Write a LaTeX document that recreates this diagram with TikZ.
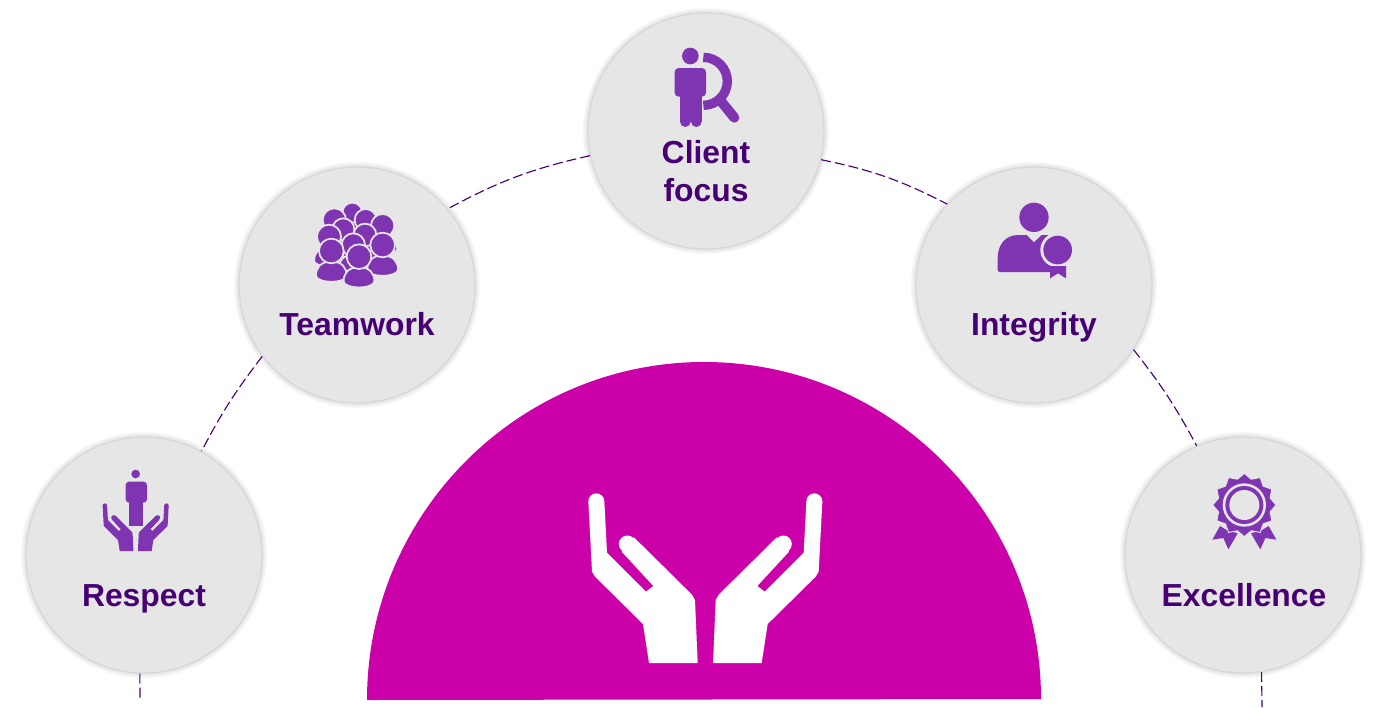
\documentclass[tikz,border=0pt]{standalone}
\usepackage{fontspec}
\setmainfont{Liberation Sans}
\definecolor{disc}{HTML}{E6E6E6}
\definecolor{rim}{HTML}{D8D8D8}
\definecolor{ink}{HTML}{460073}
\definecolor{icon}{HTML}{7F35B2}
\definecolor{dome}{HTML}{CB00A9}
\newcommand{\handshape}{(55,65) -- (66,275) -- (75,290) -- (219,432) -- (237,549) -- (383,549) -- (375,360) -- (365,343) -- (192,172) -- (155,215) -- (250,318) -- (228,335) -- (111,218) -- (103,65) -- cycle}
\newcommand{\handicon}[1]{\fill[#1] \handshape; \fill[#1] (79,64) circle[radius=24]; \fill[#1] (172,192) circle[radius=25.5];}
\newcommand{\person}[3]{%
  \path[fill=icon,draw=disc,line width=1.3pt] (#1,#2+0.85*#3) .. controls (#1-0.9*#3,#2+0.85*#3) and (#1-1.25*#3,#2+1.4*#3) .. (#1-1.25*#3,#2+2.0*#3) .. controls (#1-1.25*#3,#2+2.3*#3) and (#1-0.6*#3,#2+2.5*#3) .. (#1,#2+2.5*#3) .. controls (#1+0.6*#3,#2+2.5*#3) and (#1+1.25*#3,#2+2.3*#3) .. (#1+1.25*#3,#2+2.0*#3) .. controls (#1+1.25*#3,#2+1.4*#3) and (#1+0.9*#3,#2+0.85*#3) .. cycle;
  \path[fill=icon,draw=disc,line width=1.3pt] (#1,#2) circle[radius=#3];}
\newlength{\pxu}\setlength{\pxu}{0.75pt}
\tikzset{
  value/.style={circle,minimum size=236\pxu,inner sep=0pt,fill=disc,draw=rim,line width=1pt},
  halo/.style={circle,minimum size=#1\pxu,inner sep=0pt,fill=black,fill opacity=0.03,draw=none},
  label/.style={font=\fontsize{23.9}{28.5}\selectfont\bfseries,text=ink,align=center,inner sep=0pt},
  link/.style={draw=ink,line width=0.85pt,dash pattern=on 7.5pt off 3pt},
}
\begin{document}
\begin{tikzpicture}[x=0.75pt,y=-0.75pt]
\useasboundingbox (0,0) rectangle (1384,707);
\fill[white] (0,0) rectangle (1384,707);
% soft halos
\foreach \c in {(706,131),(357,285),(1034,285),(144,555),(1243,555)}{
  \foreach \s in {246,243,240}{\node[halo=\s] at \c {};}
}
\node[value] (client) at (706,131) {};
\node[value] (team) at (357,285) {};
\node[value] (integ) at (1034,285) {};
\node[value] (resp) at (144,555) {};
\node[value] (excel) at (1243,555) {};
% connectors
\coordinate (respend) at (140,700);
\coordinate (excelend) at (1262,707);
\draw[link] (client.192.8) to[bend right=7.8] (team.40.9);
\draw[link] (team.217.4) to[bend right=5] (resp.61.5);
\draw[link] (resp.268) to (respend);
\draw[link] (client.346.4) to[bend left=7.8] (integ.137.3);
\draw[link] (integ.327) to[bend left=5] (excel.113);
\draw[link] (excel.279) to (excelend);
% dome
\fill[dome] (367,700) .. controls (367,514) and (518,362) .. (704,362) .. controls (890,362) and (1041,513) .. (1041,699) -- cycle;
% big hands
\begin{scope}[shift={(570,480)},scale=0.33333]
  \handicon{white}
\end{scope}
\begin{scope}[shift={(840.67,480)},xscale=-0.33333,yscale=0.33333]
  \handicon{white}
\end{scope}
% client icon
\begin{scope}[shift={(640,30)},scale=0.33333]
  \fill[icon] (151,78) circle[radius=25];
  \fill[icon,rounded corners=3pt] (104,114) rectangle (198,200);
  \fill[icon] (120,180) rectangle (185,275);
  \fill[icon] (136,275) circle[radius=16];
  \fill[icon] (169,275) circle[radius=16];
  \draw[icon,line width=7pt] (190,82) arc[start angle=-90,end angle=90,radius=72];
  \draw[icon,line width=7.5pt,line cap=round] (240,210) -- (283,263);
\end{scope}
% teamwork icon
\begin{scope}[shift={(300,190)},scale=0.33333]
  \person{157}{68}{30}
  \person{103}{90}{35}
  \person{197}{90}{33}
  \person{248}{107}{35}
  \person{130}{118}{33}
  \person{195}{135}{34}
  \person{87}{140}{36}
  \person{160}{165}{35}
  \person{248}{165}{37}
  \person{94}{183}{37}
  \person{177}{200}{37}
\end{scope}
% integrity icon
\begin{scope}[shift={(980,190)},scale=0.33333]
  \fill[icon] (162,82) circle[radius=44];
  \fill[icon] (60,246) .. controls (55,246) and (53,243) .. (53,238) -- (53,205) .. controls (53,165) and (75,135) .. (115,135) -- (140,135) -- (162,157) -- (185,135) -- (215,135) -- (215,246) -- cycle;
  \fill[disc] (233,180) circle[radius=52];
  \fill[icon] (210,228) -- (258,228) -- (258,265) -- (234,250) -- (210,265) -- cycle;
  \fill[icon] (233,180) circle[radius=43];
\end{scope}
% respect icon
\begin{scope}[shift={(90,460)},scale=0.33333]
  \fill[icon] (137,42) circle[radius=13];
  \fill[icon,rounded corners=2.5pt] (107,65) rectangle (171,128);
  \fill[icon] (118,110) rectangle (160,197);
  \begin{scope}[shift={(22.5,118.8)},scale=0.281]
    \handicon{icon}
  \end{scope}
  \begin{scope}[shift={(251.5,118.8)},xscale=-0.281,yscale=0.281]
    \handicon{icon}
  \end{scope}
\end{scope}
% excellence icon
\begin{scope}[shift={(1195,465)},scale=0.33333]
  \fill[icon] (75,183) -- (52,224) -- (85,219) -- (100,253) -- (128,205) -- (95,195) -- cycle;
  \fill[icon] (221,183) -- (244,224) -- (211,219) -- (196,253) -- (168,205) -- (201,195) -- cycle;
  \path[fill=icon,draw=disc,line width=0.7pt]
    (148,25)
    \foreach \a in {15,45,...,345}{ -- ({148+80*sin(\a)},{120-80*cos(\a)}) -- ({148+95*sin(\a+15)},{120-95*cos(\a+15)}) } -- cycle;
  \fill[disc] (148,120) circle[radius=65];
  \fill[icon] (148,120) circle[radius=57];
  \fill[disc] (148,120) circle[radius=45];
\end{scope}
% labels
\node[label] (lclient) at (706,171) {Client\\focus};
\node[label,anchor=base] (lteam) at (357,335) {Teamwork};
\node[label,anchor=base] (linteg) at (1034,335) {Integrity};
\node[label,anchor=base] (lresp) at (144,606) {Respect};
\node[label,anchor=base] (lexcel) at (1244,606) {Excellence};
\end{tikzpicture}
\end{document}
